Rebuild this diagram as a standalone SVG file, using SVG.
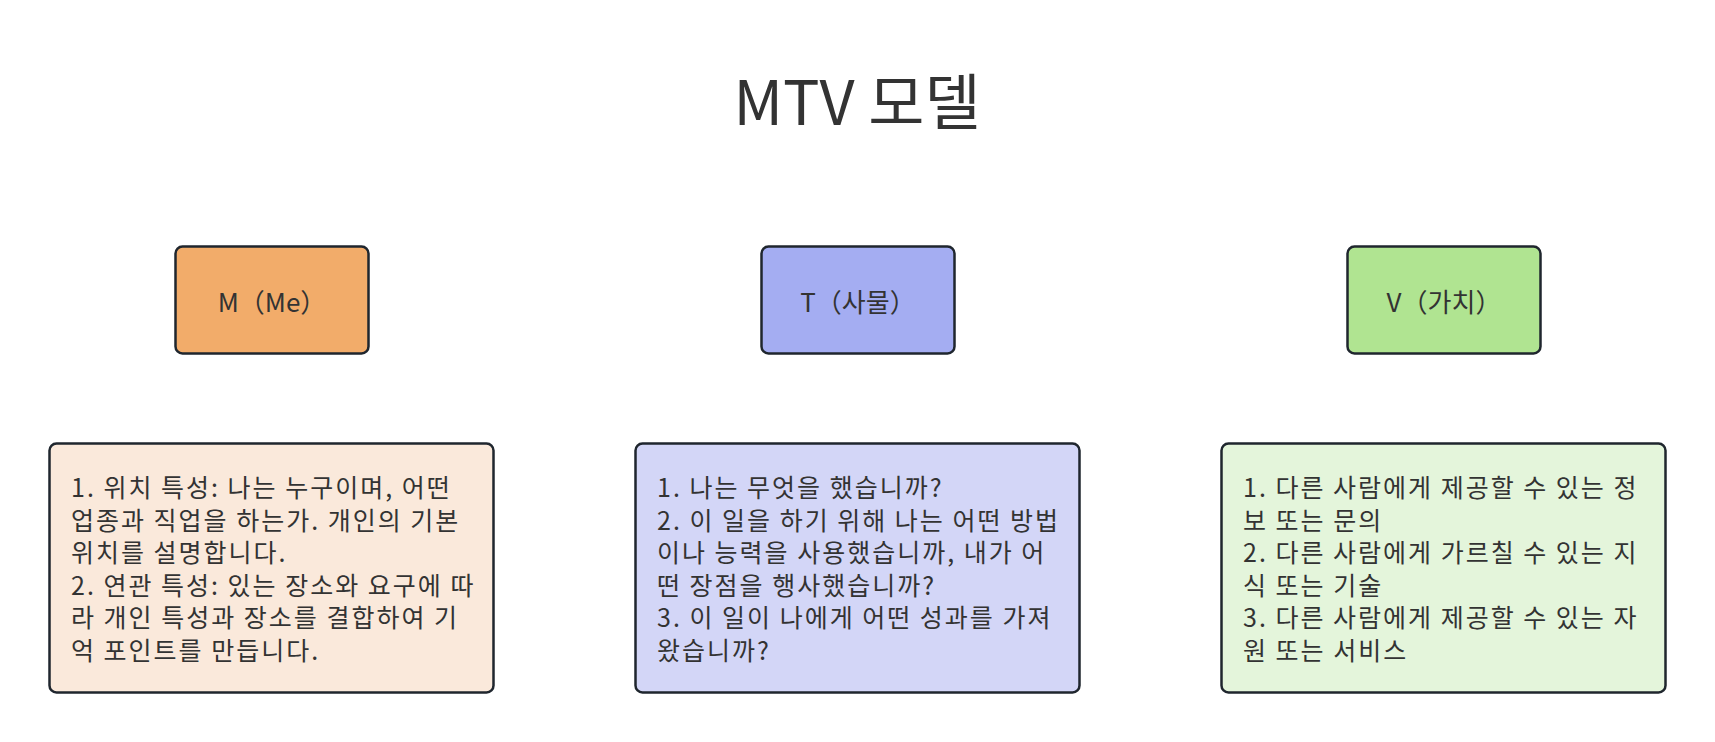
<svg xmlns="http://www.w3.org/2000/svg" width="1715" height="742" viewBox="0 0 1715 742">
<style>
text { font-family: "Noto Sans CJK KR", "Noto Sans", sans-serif; fill: #333333; }
.title { font-size: 61px; text-anchor: middle; }
.head { font-size: 26px; text-anchor: middle; }
.body { font-size: 25px; letter-spacing: 2px; }
.box { stroke: #1f262e; stroke-width: 2.5; }
</style>
<rect width="1715" height="742" fill="#ffffff"/>
<text class="title" x="857" y="125">MTV 모델</text>
<g id="connectors"></g>
<g id="node-m">
<rect class="box" x="175.5" y="246.5" width="193" height="107" rx="7" fill="#f2ac6a"/>
<text class="head" x="272" y="312">M（Me）</text>
</g>
<g id="node-t">
<rect class="box" x="761.5" y="246.5" width="193" height="107" rx="7" fill="#a4adf2"/>
<text class="head" x="858" y="312">T（사물）</text>
</g>
<g id="node-v">
<rect class="box" x="1347.5" y="246.5" width="193" height="107" rx="7" fill="#b0e491"/>
<text class="head" x="1444" y="312">V（가치）</text>
</g>
<g id="node-m-detail">
<rect class="box" x="49.5" y="443.5" width="444" height="249" rx="7" fill="#fae9db"/>
<text class="body" x="71" y="497">1. 위치 특성: 나는 누구이며, 어떤</text>
<text class="body" x="71" y="529.6">업종과 직업을 하는가. 개인의 기본</text>
<text class="body" x="71" y="562.2">위치를 설명합니다.</text>
<text class="body" x="71" y="594.8">2. 연관 특성: 있는 장소와 요구에 따</text>
<text class="body" x="71" y="627.4">라 개인 특성과 장소를 결합하여 기</text>
<text class="body" x="71" y="660">억 포인트를 만듭니다.</text>
</g>
<g id="node-t-detail">
<rect class="box" x="635.5" y="443.5" width="444" height="249" rx="7" fill="#d3d6f7"/>
<text class="body" x="657" y="497">1. 나는 무엇을 했습니까?</text>
<text class="body" x="657" y="529.6">2. 이 일을 하기 위해 나는 어떤 방법</text>
<text class="body" x="657" y="562.2">이나 능력을 사용했습니까, 내가 어</text>
<text class="body" x="657" y="594.8">떤 장점을 행사했습니까?</text>
<text class="body" x="657" y="627.4">3. 이 일이 나에게 어떤 성과를 가져</text>
<text class="body" x="657" y="660">왔습니까?</text>
</g>
<g id="node-v-detail">
<rect class="box" x="1221.5" y="443.5" width="444" height="249" rx="7" fill="#e4f5db"/>
<text class="body" x="1243" y="497">1. 다른 사람에게 제공할 수 있는 정</text>
<text class="body" x="1243" y="529.6">보 또는 문의</text>
<text class="body" x="1243" y="562.2">2. 다른 사람에게 가르칠 수 있는 지</text>
<text class="body" x="1243" y="594.8">식 또는 기술</text>
<text class="body" x="1243" y="627.4">3. 다른 사람에게 제공할 수 있는 자</text>
<text class="body" x="1243" y="660">원 또는 서비스</text>
</g>
</svg>
